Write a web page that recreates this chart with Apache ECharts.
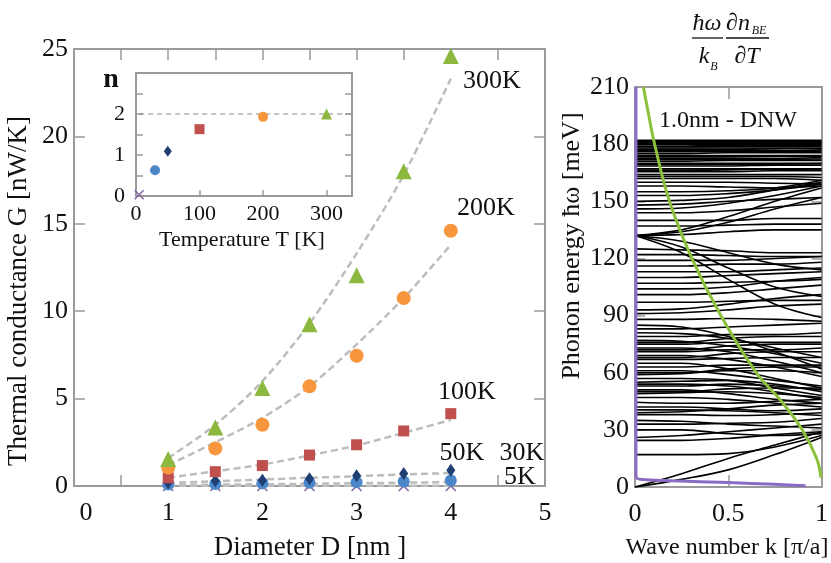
<!DOCTYPE html>
<html>
<head>
<meta charset="utf-8">
<script src="https://cdn.jsdelivr.net/npm/echarts@6/dist/echarts.min.js"></script>
<style>
  html, body { margin: 0; padding: 0; background: #fff; }
  #main { width: 831px; height: 563px; }
</style>
</head>
<body>
<div id="main"></div>
<script>
// main plot: diameter vs conductance
var diameters = [1, 1.5, 2, 2.5, 3, 3.5, 4];
var g300 = [1.55, 3.35, 5.6, 9.25, 12.05, 18.0, 24.6];
var g200 = [1.05, 2.15, 3.5, 5.7, 7.45, 10.75, 14.6];
var g100 = [0.47, 0.82, 1.17, 1.77, 2.36, 3.15, 4.14];
var g50  = [0.18, 0.3, 0.33, 0.42, 0.58, 0.72, 0.9];
var g30  = [0.08, 0.12, 0.15, 0.18, 0.21, 0.26, 0.32];
var g5   = [0, 0, 0, 0, 0, 0, 0];
// dashed fits
var fit300 = [1.6, 3.5, 6.0, 9.3, 13.3, 17.8, 23.3];
var fit200 = [1.2, 2.5, 3.9, 5.7, 8.1, 10.75, 13.8];
var fit100 = [0.47, 0.85, 1.23, 1.75, 2.32, 3.04, 3.78];
var fit50  = [0.17, 0.27, 0.37, 0.47, 0.56, 0.66, 0.74];
var fit30  = [0.06, 0.08, 0.1, 0.13, 0.16, 0.19, 0.23];
var fit5   = [0.02, 0.02, 0.02, 0.02, 0.02, 0.02, 0.02];

// inset: exponent n vs temperature
var insetT = [5, 30, 50, 100, 200, 300];
var insetN = [0.03, 0.63, 1.09, 1.63, 1.93, 2.0];
var insetRefT = [5, 340];
var insetRefN = [2, 2];

// right plot: phonon bands, E (meV) at each k
var bandK = [0, 0.25, 0.5, 0.75, 1];
var phononBands = [
  [0, 4, 9, 17, 26], [0, 7, 15, 22, 29], [17, 17, 17.5, 21, 27],
  [24.5, 24.5, 25.5, 27.5, 29], [26, 27, 29, 31, 33], [30, 30, 28, 27, 28],
  [33, 33, 33.5, 34, 36], [35, 34.5, 33, 32, 31],
  [38, 38, 37.5, 38, 39], [39, 39.5, 41, 43, 44],
  [40.5, 40.5, 40, 39, 37.5], [42, 42, 41, 40, 41],
  [44.5, 44, 44, 45, 46], [47, 47, 46, 44, 42],
  [49, 49.5, 50, 49, 47], [50, 50, 51.5, 52, 52],
  [51, 51, 49, 46, 44], [53, 53, 54, 53, 51],
  [54, 54, 53, 50, 46], [55, 55.5, 56, 54, 50],
  [57, 57, 56, 52, 48], [59, 59.5, 61, 61, 60],
  [60, 60, 62, 63, 63], [61, 61, 59, 56, 53],
  [63, 63, 64, 64, 64], [65, 65, 62, 57, 52],
  [67, 67, 67.5, 68, 68], [68, 68, 70, 71, 71],
  [69, 69, 67, 63, 58], [71, 71, 72, 72, 73],
  [72, 72, 74, 75, 75], [73, 73, 71, 66, 60],
  [75, 75, 76, 76, 76], [76, 76, 78, 79, 79], [77, 76.5, 74, 70, 65],
  [79, 79, 80, 80, 81], [81, 80.5, 78, 73, 68],
  [83, 83, 84, 85, 86], [85, 84, 79, 71, 62],
  [88, 88, 88.5, 88, 87], [91, 91.5, 93, 95, 96], [93, 93.5, 96, 99, 101],
  [97, 97, 97.5, 98, 98], [101, 101, 102, 104, 106], [104, 104, 105, 108, 110],
  [107, 107, 107.5, 108, 109], [110, 110, 111, 112, 113], [113, 113, 113, 114, 115],
  [116, 116, 117, 117, 118], [119, 119, 119, 120, 121], [122, 122, 121.5, 121, 121],
  [125, 124.5, 124, 123, 123], [132, 129, 123, 117, 114], [132, 126, 115, 105, 100],
  [132, 123, 109, 96, 89], [132, 134, 139, 146, 152], [132, 135, 142, 150, 157],
  [132, 132.5, 134, 135, 135], [137, 137, 137.5, 138, 138], [140, 140, 140, 141, 141],
  [144, 144, 145, 147, 149], [146, 146.5, 149, 153, 158], [148, 148.5, 150, 151, 152],
  [150, 150.5, 152, 156, 160], [153, 153, 154, 156, 159], [155, 155, 155.5, 157, 161],
  [158, 158, 157.5, 157, 158], [160, 160, 160, 159.5, 159], [162, 162, 162, 162, 161],
  [163, 163, 163, 163, 162.5], [164, 164, 164, 164, 164], [165.5, 165.5, 165.5, 166, 166],
  [166.3, 166.3, 166.5, 166.8, 167], [167, 167, 167, 167, 167], [168.5, 168.5, 168.5, 169, 169],
  [169.3, 169.3, 169.3, 169.5, 169.8], [170, 170, 170, 170, 170], [171, 171, 171.5, 171.5, 171.5],
  [171.8, 171.8, 172, 172, 172.2], [172.5, 172.5, 172.5, 172.5, 173], [173.3, 173.3, 173.3, 173.5, 173.6],
  [174, 174, 174, 174, 174], [175, 175, 175.5, 175.5, 175.5], [176, 176, 176, 176, 176.2],
  [176.5, 176.5, 176.5, 176.5, 177], [177.3, 177.3, 177.3, 177.5, 177.6], [178, 178, 178, 178, 178],
  [178.6, 178.6, 178.8, 178.8, 178.8], [179, 179, 179.5, 179.5, 179.5], [180, 180, 180, 180, 180],
  [180.5, 180.5, 180.5, 180.5, 180.5], [181, 181, 181, 181, 181], [181.5, 181.5, 181.5, 181.5, 181.5],
  [182, 182, 182, 182, 182]
];
var greenK = [0.045, 0.074, 0.105, 0.185, 0.305, 0.46, 0.65, 0.785, 0.897, 0.974, 0.997];
var greenE = [210, 195, 180, 150, 120, 90, 60, 45, 30, 15, 5];
var purpleK = [0.005, 0.005, 0.01, 0.04, 0.2, 0.5, 0.75, 0.915];
var purpleE = [210, 7, 4.6, 3.9, 3.3, 2.3, 1.4, 0.7];

var SERIF = "'Liberation Serif', 'Times New Roman', serif";
var AXC = '#9a9a9a';

function pairs(xs, ys) {
  return xs.map(function (x, i) { return [x, ys[i]]; });
}

function axis(opt) {
  return {
    type: 'value',
    gridIndex: opt.grid,
    min: opt.min, max: opt.max, interval: opt.interval,
    position: opt.position,
    axisLine: { show: true, onZero: false, lineStyle: { color: AXC, width: 2 } },
    axisTick: { show: opt.tick !== false, inside: true, length: opt.tickLen || 10,
                lineStyle: { color: AXC, width: 1.5 } },
    axisLabel: { show: !!opt.labels, color: '#111', fontFamily: SERIF,
                 fontSize: opt.fontSize || 26, margin: opt.margin || 8,
                 formatter: opt.labels, rich: opt.rich },
    splitLine: { show: false }
  };
}

var x_main = { grid: 0, min: 0, max: 5, interval: 0.5, tickLen: 11 };
var y_main = { grid: 0, min: 0, max: 25, interval: 5, tickLen: 11 };

var xAxes = [
  axis(Object.assign({}, x_main, { position: 'bottom', margin: 14,
    labels: function (v) {
      if (v === 0) return '{z|0}';
      return Number.isInteger(v) ? String(v) : '';
    },
    rich: { z: { fontFamily: SERIF, fontSize: 26, color: '#111', padding: [0, 0, 0, 24] } } })),
  axis(Object.assign({}, x_main, { position: 'top' })),
  axis({ grid: 1, min: 0, max: 340, interval: 100, position: 'bottom', tickLen: 6,
    fontSize: 22, margin: 7,
    labels: function (v) { return v % 100 === 0 ? String(v) : ''; } }),
  axis({ grid: 1, min: 0, max: 340, interval: 100, position: 'top', tick: false }),
  axis({ grid: 2, min: 0, max: 1, interval: 0.5, position: 'bottom', tickLen: 12, margin: 14,
    labels: function (v) { return String(v); } }),
  axis({ grid: 2, min: 0, max: 1, interval: 0.5, position: 'top', tickLen: 12 })
];
var yAxes = [
  axis(Object.assign({}, y_main, { position: 'left', margin: 6,
    labels: function (v) { return String(v); } })),
  axis(Object.assign({}, y_main, { position: 'right' })),
  axis({ grid: 1, min: 0, max: 3, interval: 0.5, position: 'left', tickLen: 7,
    fontSize: 22, margin: 11,
    labels: function (v) { return (v === 0 || v === 1 || v === 2) ? String(v) : ''; } }),
  axis({ grid: 1, min: 0, max: 3, interval: 0.5, position: 'right', tickLen: 7 }),
  axis({ grid: 2, min: 0, max: 210, interval: 30, position: 'left', tickLen: 10, margin: 6,
    labels: function (v) { return String(v); } }),
  axis({ grid: 2, min: 0, max: 210, interval: 30, position: 'right', tickLen: 10 })
];

var crossPath = 'path://M1,0L5,4L9,0L10,1L6,5L10,9L9,10L5,6L1,10L0,9L4,5L0,1Z';
var C300 = '#8cb83f', C200 = '#f7963c', C100 = '#c0504d',
    C50 = '#1f3f73', C30 = '#4a86c8', C5 = '#8064a2';

var series = [];

// dashed fit lines
[fit300, fit200, fit100, fit50, fit30, fit5].forEach(function (f) {
  series.push({
    type: 'line', xAxisIndex: 0, yAxisIndex: 0, data: pairs(diameters, f),
    smooth: 0.3, showSymbol: false, silent: true, z: 2,
    lineStyle: { color: '#bdbdbd', width: 2.5, type: [7, 4] }
  });
});

function scatterMain(vals, symbol, size, color) {
  series.push({
    type: 'scatter', xAxisIndex: 0, yAxisIndex: 0, data: pairs(diameters, vals),
    symbol: symbol, symbolSize: size, z: 3,
    itemStyle: { color: color, opacity: 1 }
  });
}
scatterMain(g5, crossPath, 11, C5);
scatterMain(g30, 'circle', 12, C30);
scatterMain(g50, 'diamond', [9, 13], C50);
scatterMain(g100, 'rect', 11, C100);
scatterMain(g200, 'circle', 14, C200);
scatterMain(g300, 'triangle', 16, C300);

// inset
series.push({
  type: 'line', xAxisIndex: 2, yAxisIndex: 2, data: pairs(insetRefT, insetRefN),
  showSymbol: false, silent: true,
  lineStyle: { color: '#8a8a8a', width: 1.2, type: [5, 4] }
});
var insetSym = [crossPath, 'circle', 'diamond', 'rect', 'circle', 'triangle'];
var insetSize = [10, 10, [8, 11], 10, 10, 11];
var insetCol = [C5, C30, C50, C100, C200, C300];
insetT.forEach(function (t, i) {
  series.push({
    type: 'scatter', xAxisIndex: 2, yAxisIndex: 2, data: [[t, insetN[i]]],
    symbol: insetSym[i], symbolSize: insetSize[i], z: 3,
    itemStyle: { color: insetCol[i], opacity: 1 }
  });
});

// phonon bands
phononBands.forEach(function (b) {
  series.push({
    type: 'line', xAxisIndex: 4, yAxisIndex: 4, data: pairs(bandK, b),
    smooth: 0.35, showSymbol: false, silent: true, z: 2,
    lineStyle: { color: '#000', width: 1.6 }
  });
});
series.push({
  type: 'line', xAxisIndex: 4, yAxisIndex: 4, data: pairs(greenK, greenE),
  smooth: 0.4, showSymbol: false, silent: true, z: 4,
  lineStyle: { color: '#8cc03c', width: 3 }
});
series.push({
  type: 'line', xAxisIndex: 4, yAxisIndex: 4, data: pairs(purpleK, purpleE),
  smooth: 0.3, showSymbol: false, silent: true, z: 4,
  lineStyle: { color: '#8a6cc4', width: 3 }
});

function txt(s, x, y, size, rot) {
  var o = { type: 'text', x: x, y: y, z: 10,
    style: { text: s, font: size + 'px ' + SERIF, fill: '#111',
             textAlign: 'center', textVerticalAlign: 'middle' } };
  if (rot) o.rotation = rot;
  return o;
}
function itxt(s, x, y, size) {
  var o = txt(s, x, y, size);
  o.style.font = 'italic ' + size + 'px ' + SERIF;
  return o;
}

var graphics = [
  txt('Thermal conductance G [nW/K]', 19, 291, 27, Math.PI / 2),
  txt('Diameter D [nm ]', 310, 548, 27),
  txt('300K', 492, 81, 26), txt('200K', 486, 208, 26), txt('100K', 467, 392, 26),
  txt('50K', 462, 453, 26), txt('30K', 522, 453, 26), txt('5K', 520, 477, 26),
  txt('Temperature T [K]', 242, 240, 22),
  { type: 'text', x: 111, y: 80, z: 10,
    style: { text: 'n', font: 'bold 28px ' + SERIF, fill: '#111',
             textAlign: 'center', textVerticalAlign: 'middle' } },
  txt('Phonon energy \u0127\u03c9 [meV]', 572, 246, 26, Math.PI / 2),
  txt('Wave number k [\u03c0/a]', 727, 548, 24),
  txt('1.0nm - DNW', 728, 121, 24),
  itxt('\u0127\u03c9', 707, 24, 24),
  { type: 'line', z: 10, shape: { x1: 692, y1: 38, x2: 723, y2: 38 }, style: { stroke: '#111', lineWidth: 1.3 } },
  itxt('k', 704, 57, 24),
  itxt('B', 714, 67, 12),
  itxt('\u2202n', 738, 24, 24),
  itxt('BE', 759, 31, 12),
  { type: 'line', z: 10, shape: { x1: 726, y1: 38, x2: 769, y2: 38 }, style: { stroke: '#111', lineWidth: 1.3 } },
  itxt('\u2202T', 747, 57, 24)
];

var chart = echarts.init(document.getElementById('main'));
chart.setOption({
  backgroundColor: '#fff',
  animation: false,
  grid: [
    { left: 74, top: 49, width: 471, height: 437 },
    { left: 136, top: 73, width: 216, height: 123 },
    { left: 635, top: 87, width: 193, height: 400 }
  ],
  xAxis: xAxes,
  yAxis: yAxes,
  series: series,
  graphic: graphics
});
</script>
</body>
</html>
